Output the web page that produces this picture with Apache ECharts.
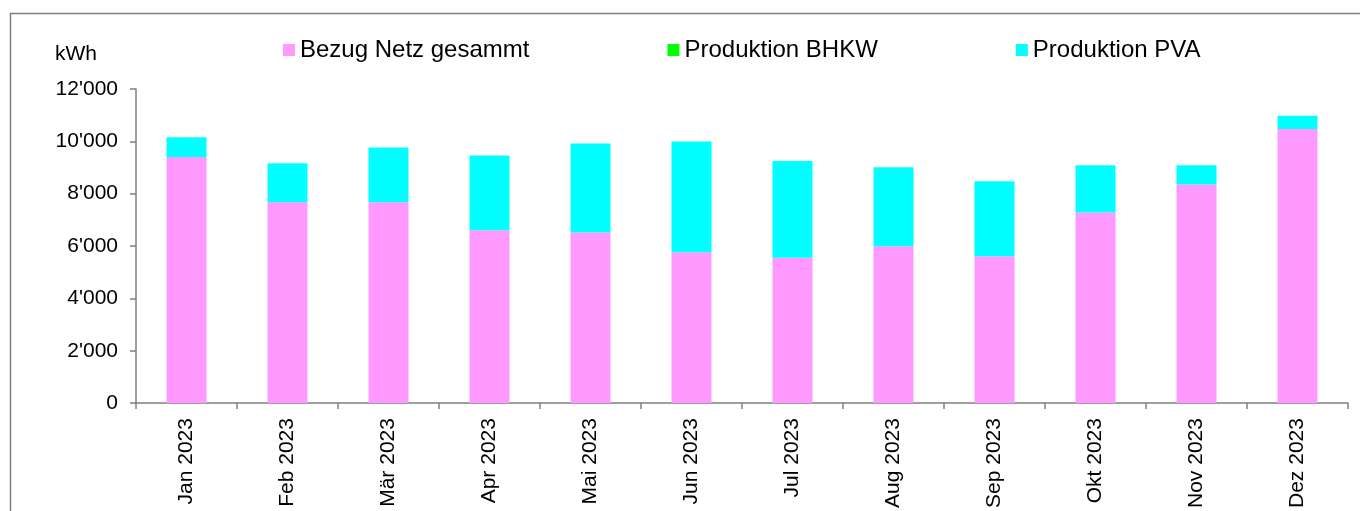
<!DOCTYPE html>
<html>
<head>
<meta charset="utf-8">
<script src="https://cdn.jsdelivr.net/npm/echarts@6/dist/echarts.min.js"></script>
<style>
  html, body { margin: 0; padding: 0; background: #ffffff; }
  #chart { width: 1360px; height: 511px; }
</style>
</head>
<body>
<div id="chart"></div>
<script>
// Monthly energy balance 2023 (kWh)
const months = ['Jan 2023', 'Feb 2023', 'Mär 2023', 'Apr 2023', 'Mai 2023', 'Jun 2023',
                'Jul 2023', 'Aug 2023', 'Sep 2023', 'Okt 2023', 'Nov 2023', 'Dez 2023'];
const bezugNetz = [9400, 7670, 7670, 6600, 6520, 5765, 5550, 5990, 5610, 7280, 8350, 10470];
const produktionBHKW = [0, 0, 0, 0, 0, 0, 0, 0, 0, 0, 0, 0];
const produktionPVA = [755, 1490, 2095, 2860, 3395, 4225, 3700, 3020, 2870, 1805, 735, 505];
const yTicks = [0, 2000, 4000, 6000, 8000, 10000, 12000];

const FONT = '"Liberation Sans", Arial, sans-serif';
const AXIS_GREY = '#808080';

function fmtThousands(v) {
  return String(v).replace(/\B(?=(\d{3})+(?!\d))/g, "'");
}

const chart = echarts.init(document.getElementById('chart'), null, { renderer: 'canvas' });

chart.setOption({
  backgroundColor: '#ffffff',
  animation: false,
  textStyle: { fontFamily: FONT, color: '#000000' },
  title: {
    text: 'kWh',
    left: 55,
    top: 44,
    padding: 0,
    textStyle: { fontFamily: FONT, fontSize: 21, fontWeight: 'normal', color: '#000000' }
  },
  legend: {
    left: 283,
    top: 38,
    padding: 0,
    itemGap: 138,
    itemWidth: 12,
    itemHeight: 12,
    icon: 'rect',
    textStyle: { fontFamily: FONT, fontSize: 24, color: '#000000' },
    data: ['Bezug Netz gesammt', 'Produktion BHKW', 'Produktion PVA']
  },
  graphic: [{
    type: 'rect',
    left: 8,
    top: 11,
    silent: true,
    shape: { width: 1400, height: 600 },
    style: { fill: 'none', stroke: AXIS_GREY, lineWidth: 1.5 }
  }],
  grid: {
    left: 136,
    right: 12,
    top: 89,
    bottom: 105,
    containLabel: false
  },
  xAxis: {
    type: 'category',
    data: months,
    boundaryGap: true,
    axisLine: { show: true, lineStyle: { color: AXIS_GREY, width: 1.5 } },
    axisTick: { show: true, length: 6, lineStyle: { color: AXIS_GREY, width: 1.5 } },
    axisLabel: {
      rotate: 90,
      margin: 15,
      fontFamily: FONT,
      fontSize: 21,
      color: '#000000',
      interval: 0
    },
    splitLine: { show: false }
  },
  yAxis: {
    type: 'value',
    min: yTicks[0],
    max: yTicks[yTicks.length - 1],
    interval: yTicks[1] - yTicks[0],
    axisLine: { show: true, lineStyle: { color: AXIS_GREY, width: 1.5 } },
    axisTick: { show: true, length: 6, lineStyle: { color: AXIS_GREY, width: 1.5 } },
    axisLabel: {
      margin: 18,
      fontFamily: FONT,
      fontSize: 21,
      color: '#000000',
      formatter: fmtThousands
    },
    splitLine: { show: false }
  },
  series: [
    {
      name: 'Bezug Netz gesammt',
      type: 'bar',
      stack: 'total',
      barWidth: 40,
      data: bezugNetz,
      itemStyle: { color: '#FF99FF' }
    },
    {
      name: 'Produktion BHKW',
      type: 'bar',
      stack: 'total',
      barWidth: 40,
      data: produktionBHKW,
      itemStyle: { color: '#00FF00' }
    },
    {
      name: 'Produktion PVA',
      type: 'bar',
      stack: 'total',
      barWidth: 40,
      data: produktionPVA,
      itemStyle: { color: '#00FFFF' }
    }
  ]
});
</script>
</body>
</html>
